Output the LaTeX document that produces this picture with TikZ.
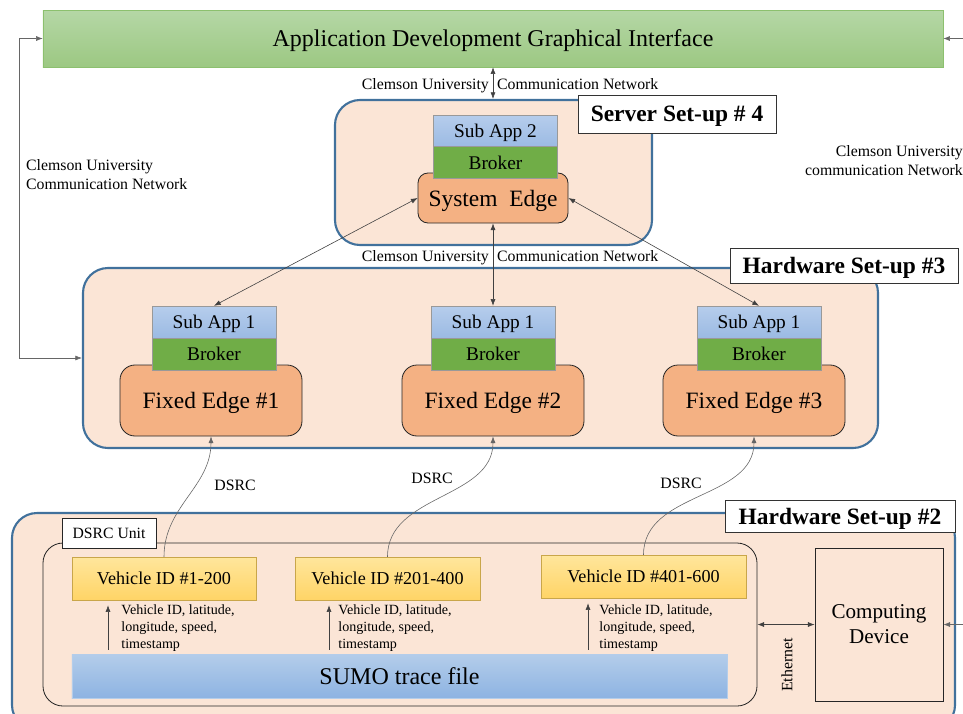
\documentclass[tikz,border=0pt]{standalone}
\usepackage{fontspec}
\setmainfont{Liberation Serif}
\usetikzlibrary{arrows.meta}

\definecolor{setupblue}{HTML}{41719C}
\definecolor{setupfill}{HTML}{FBE5D6}
\definecolor{edgeorange}{HTML}{F4B183}
\definecolor{brokergreen}{HTML}{70AD47}
\definecolor{apptop}{HTML}{B6CDEC}
\definecolor{appbot}{HTML}{9BBAE3}
\definecolor{guitop}{HTML}{B5D7A6}
\definecolor{guibot}{HTML}{9CC882}
\definecolor{guiline}{HTML}{8CC06E}
\definecolor{vehtop}{HTML}{FFE69C}
\definecolor{vehbot}{HTML}{FFD466}
\definecolor{vehline}{HTML}{C9A64A}
\definecolor{sumotop}{HTML}{B4CDEA}
\definecolor{sumobot}{HTML}{8DB3E2}

\begin{document}
\begin{tikzpicture}[x=0.3mm, y=-0.3mm,
    setupbox/.style={draw=setupblue, line width=1.8pt, fill=setupfill, rounded corners=7.5mm, inner sep=0pt},
    tagbox/.style={draw=black!80, fill=white, line width=0.7pt, inner sep=0pt, text depth=0pt, font={\fontsize{20}{24}\selectfont\bfseries}},
    subapp/.style={draw=gray!80, top color=apptop, bottom color=appbot, minimum width=37.2mm, minimum height=9.6mm, inner sep=0pt, text depth=0pt, font={\fontsize{16.5}{20}\selectfont}},
    broker/.style={draw=gray!80, fill=brokergreen, minimum width=37.2mm, minimum height=9.6mm, inner sep=0pt, text depth=0pt, font={\fontsize{16.5}{20}\selectfont}},
    edgebox/.style={draw=black!85, line width=0.7pt, fill=edgeorange, inner sep=0pt, text depth=0pt, font={\fontsize{20}{24}\selectfont}},
    vehicle/.style={draw=vehline, top color=vehtop, bottom color=vehbot, minimum height=12.9mm, inner sep=0pt, text depth=0pt, font={\fontsize{15.5}{19}\selectfont}},
    netlabel/.style={font={\fontsize{13.5}{16.2}\selectfont}},
    datalabel/.style={align=left, inner sep=1pt, font={\fontsize{12}{14.5}\selectfont}},
    arr/.style={{Latex[length=2mm,width=1.5mm]}-{Latex[length=2mm,width=1.5mm]}, draw=black!75, line width=0.5pt},
    onearr/.style={-{Latex[length=2mm,width=1.5mm]}, draw=black!75, line width=0.5pt}
  ]
  \useasboundingbox (0,0) rectangle (963,713);

  \node[draw=guiline, top color=guitop, bottom color=guibot, minimum width=270mm, minimum height=17.1mm, text depth=0pt, font={\fontsize{20.5}{24}\selectfont}] (gui) at (493,38.5) {Application Development Graphical Interface};

  % set-up frames
  \node[setupbox, minimum width=95.1mm, minimum height=43.5mm] (server) at (493.5,172.5) {};
  \node[setupbox, minimum width=238.5mm, minimum height=54mm] (hw3) at (480.5,358) {};
  \node[setupbox, minimum width=282.9mm, minimum height=65.1mm] (hw2) at (483.5,621.5) {};

  \node[tagbox, minimum width=59.4mm, minimum height=11.4mm] (servertag) at (677,114) {Server Set-up \# 4};
  \node[tagbox, minimum width=68.4mm, minimum height=10.5mm] (hw3tag) at (844,265.5) {Hardware Set-up \#3};
  \node[tagbox, minimum width=69mm, minimum height=9.6mm] (hw2tag) at (840,516) {Hardware Set-up \#2};

  % server
  \node[edgebox, rounded corners=3mm, minimum width=45mm, minimum height=15mm] (se) at (493,198) {System\ \ Edge};
  \node[subapp] (sa) at (495.5,131) {Sub App 2};
  \node[broker] (sb) at (495.5,162.5) {Broker};

  % fixed edges
  \node[edgebox, rounded corners=4.5mm, minimum width=54.6mm, minimum height=21.3mm] (fe1) at (211,400.5) {Fixed Edge \#1};
  \node[edgebox, rounded corners=4.5mm, minimum width=54.6mm, minimum height=21.3mm] (fe2) at (493,400.5) {Fixed Edge \#2};
  \node[edgebox, rounded corners=4.5mm, minimum width=54.6mm, minimum height=21.3mm] (fe3) at (754,400.5) {Fixed Edge \#3};

  \node[subapp] (s1) at (214,322) {Sub App 1};
  \node[subapp] (s2) at (493,322) {Sub App 1};
  \node[subapp] (s3) at (759,322) {Sub App 1};
  \node[broker] (b1) at (214,354) {Broker};
  \node[broker] (b2) at (493,354) {Broker};
  \node[broker] (b3) at (759,354) {Broker};

  % DSRC unit
  \node[draw=black!85, line width=0.7pt, rounded corners=6mm, minimum width=214.2mm, minimum height=48.9mm] (unit) at (400,624.5) {};
  \node[draw=black!85, fill=white, line width=0.7pt, minimum width=28.2mm, minimum height=9mm, inner sep=0pt, font={\fontsize{13.4}{16}\selectfont}] (unittag) at (109,533) {DSRC Unit};

  \node[vehicle, minimum width=55.2mm] (v1) at (164,578.5) {Vehicle ID \#1-200};
  \node[vehicle, minimum width=55.5mm] (v2) at (387.5,578.5) {Vehicle ID \#201-400};
  \node[vehicle, minimum width=61.5mm] (v3) at (643.5,576.5) {Vehicle ID \#401-600};

  \node[draw=sumotop, top color=sumotop, bottom color=sumobot, minimum width=196.5mm, minimum height=13.2mm, inner sep=0pt, text depth=0pt, font={\fontsize{20.5}{24}\selectfont}] (sumo) at (399.5,676) {SUMO trace file};

  \node[datalabel, anchor=north west] (d1) at (120,603.5) {Vehicle ID, latitude,\\longitude, speed,\\timestamp};
  \node[datalabel, anchor=north west] (d2) at (337,603.5) {Vehicle ID, latitude,\\longitude, speed,\\timestamp};
  \node[datalabel, anchor=north west] (d3) at (598,603.5) {Vehicle ID, latitude,\\longitude, speed,\\timestamp};

  \node[draw=black!85, line width=0.7pt, minimum width=38.4mm, minimum height=45.9mm, align=center, font={\fontsize{18}{21.3}\selectfont}] (cd) at (879,624.5) {Computing\\Device};

  % labels
  \node[netlabel, anchor=base east] (n1a) at (493,89) {Clemson University};
  \node[netlabel, anchor=base west] (n1b) at (493,89) {Communication Network};
  \node[netlabel, anchor=base east] (n2a) at (493,261) {Clemson University};
  \node[netlabel, anchor=base west] (n2b) at (493,261) {Communication Network};
  \node[netlabel, anchor=west, align=left] (nleft) at (22,174.5) {Clemson University\\Communication Network};
  \node[netlabel, anchor=east, align=right] (nright) at (967,160.5) {Clemson University\\communication Network};

  \node[netlabel] (ds1) at (235,485) {DSRC};
  \node[netlabel] (ds2) at (432,478) {DSRC};
  \node[netlabel] (ds3) at (681,483) {DSRC};
  \node[netlabel, rotate=90] (eth) at (787,665) {Ethernet};

  % connectors
  \coordinate (a1) at (108,0);
  \coordinate (a2) at (329,0);
  \coordinate (a3) at (588,0);
  \coordinate (rr) at (975,0);

  \draw[arr] (gui.south) -- (gui.south |- server.north);
  \draw[arr] (s2.north) -- (se.south);
  \draw[arr] (s1.north) -- (se.west);
  \draw[arr] (s3.north) -- (se.east);

  \draw[arr, draw=black!60] (gui.west) -- ++(-23,0) |- (hw3.west);
  \draw[arr, draw=black!60] (gui.east) -| (rr |- cd.east) -- (cd.east);

  \draw[onearr, draw=black!60] (v1.north) to[out=90, in=-90] (fe1.south);
  \draw[onearr, draw=black!60] (v2.north) to[out=90, in=-90] (fe2.south);
  \draw[onearr, draw=black!60] (v3.north) to[out=90, in=-90] (fe3.south);

  \draw[onearr, shorten <=1.2mm, shorten >=1.5mm] (sumo.north -| a1) -- (v1.south -| a1);
  \draw[onearr, shorten <=1.2mm, shorten >=1.5mm] (sumo.north -| a2) -- (v2.south -| a2);
  \draw[onearr, shorten <=1.2mm, shorten >=1.5mm] (sumo.north -| a3) -- (v3.south -| a3);

  \draw[arr] (unit.east) -- (cd.west);
\end{tikzpicture}
\end{document}
